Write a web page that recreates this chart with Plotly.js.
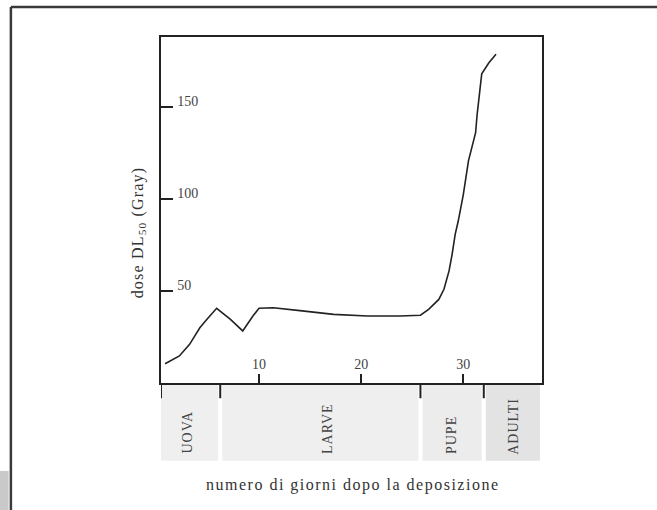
<!DOCTYPE html>
<html>
<head>
<meta charset="utf-8">
<script src="https://cdn.plot.ly/plotly-3.0.1.min.js"></script>
<style>
html,body{margin:0;padding:0;background:#fff;}
#chart{width:657px;height:510px;}
.annotation[data-index="4"] text{letter-spacing:1.5px;}
.annotation[data-index="5"] text{letter-spacing:1.2px;}
.annotation[data-index="0"] text,.annotation[data-index="1"] text,.annotation[data-index="2"] text,.annotation[data-index="3"] text{letter-spacing:1px;}
</style>
</head>
<body>
<div id="chart"></div>
<script>
// Days after egg laying
var days = [0.8, 2.2, 3.2, 4.2, 4.9, 5.85, 7.2, 8.4, 9.4, 10.0, 11.4, 12.7, 14, 17.3, 20.6, 23.8, 25.8, 26.6, 27.6, 28.1, 28.6, 28.9, 29.2, 29.5, 30.0, 30.5, 30.85, 31.2, 31.35, 31.6, 31.8, 32.5, 33.2];
// LD50 dose (Gray)
var dose = [10.5, 14.7, 21, 30, 34.6, 40.6, 34.6, 28.3, 36.4, 40.6, 40.9, 40, 39.3, 37.3, 36.4, 36.4, 36.8, 40, 45.4, 50.9, 60.9, 69.9, 80.8, 88, 102.5, 120.7, 128.8, 136, 146, 160.5, 168, 174, 178.6];
var xTicks = [10, 20, 30];
var yTicks = [50, 100, 150];
var stageNames = ["UOVA", "LARVE", "PUPE", "ADULTI"];
var stageBounds = [0.4, 6.2, 25.8, 32.0, 37.5];
var stageLabelX = [3.0, 16.7, 28.9, 34.9];
var stageColors = ["#efefef", "#efefef", "#ececec", "#e3e3e3"];
var xTitle = "numero di giorni dopo la deposizione";
var yTitle = "dose DL<sub>50</sub> (Gray)";

var serif = "Liberation Serif, Times New Roman, serif";
var shapes = [];
var annotations = [];
var gap = 0.2;
for (var i = 0; i < stageNames.length; i++) {
  var x0 = stageBounds[i] + (i === 0 ? 0 : gap);
  var x1 = stageBounds[i + 1] - (i === stageNames.length - 1 ? 0 : gap);
  shapes.push({type: "rect", xref: "x", yref: "paper", x0: x0, x1: x1, y0: -0.225, y1: -0.006,
    fillcolor: stageColors[i], line: {width: 0}, layer: "below"});
  annotations.push({xref: "x", yref: "paper", x: stageLabelX[i], y: -0.205, yanchor: "bottom",
    text: stageNames[i], textangle: -90, showarrow: false,
    font: {family: serif, size: 14, color: "#444"}});
}
// boundary marks below axis
for (var j = 0; j < stageBounds.length - 1; j++) {
  shapes.push({type: "line", xref: "x", yref: "paper", x0: stageBounds[j], x1: stageBounds[j],
    y0: 0, y1: -0.044, line: {color: "#222", width: 2}});
}
// outer frame (top and left)
shapes.push({type: "line", xref: "paper", yref: "paper", x0: -0.394, x1: 1.31, y0: 1.0867, y1: 1.0867,
  line: {color: "#3a3a3a", width: 2.5}});
shapes.push({type: "line", xref: "paper", yref: "paper", x0: -0.394, x1: -0.394, y0: 1.0867, y1: -0.37,
  line: {color: "#3a3a3a", width: 2.5}});
shapes.push({type: "rect", xref: "paper", yref: "paper", x0: -0.43, x1: -0.4, y0: -0.254, y1: -0.37,
  fillcolor: "#c9c9c9", line: {width: 0}});

annotations.push({xref: "paper", yref: "paper", x: 0.504, y: -0.295, xanchor: "center", yanchor: "middle",
  text: xTitle, showarrow: false,
  font: {family: serif, size: 16, color: "#333"}});
annotations.push({xref: "paper", yref: "paper", x: -0.058, y: 0.434, xanchor: "center", yanchor: "middle",
  text: yTitle, textangle: -90, showarrow: false,
  font: {family: serif, size: 16, color: "#333"}});

var trace = {x: days, y: dose, type: "scatter", mode: "lines",
  line: {color: "#222", width: 1.6}, hoverinfo: "skip"};

var layout = {
  width: 657, height: 510,
  margin: {l: 161, r: 115, t: 37, b: 127},
  paper_bgcolor: "#fff", plot_bgcolor: "#fff",
  showlegend: false,
  xaxis: {range: [0.4, 37.7], tickvals: xTicks, ticktext: xTicks.map(String),
    ticks: "inside", ticklen: 9, tickwidth: 2, tickcolor: "#222",
    ticklabelposition: "inside", ticklabelstandoff: 2,
    showline: true, linecolor: "#222", linewidth: 2, mirror: true,
    showgrid: false, zeroline: false,
    tickfont: {family: serif, size: 14, color: "#444"}},
  yaxis: {range: [0, 188], tickvals: yTicks, ticktext: yTicks.map(String),
    ticks: "inside", ticklen: 12, tickwidth: 2, tickcolor: "#222",
    ticklabelposition: "inside", ticklabelstandoff: 4, ticklabelshift: -6,
    showline: true, linecolor: "#222", linewidth: 2, mirror: true,
    showgrid: false, zeroline: false,
    tickfont: {family: serif, size: 14, color: "#444"}},
  shapes: shapes,
  annotations: annotations
};
Plotly.newPlot("chart", [trace], layout, {staticPlot: true, displayModeBar: false});
</script>
</body>
</html>
